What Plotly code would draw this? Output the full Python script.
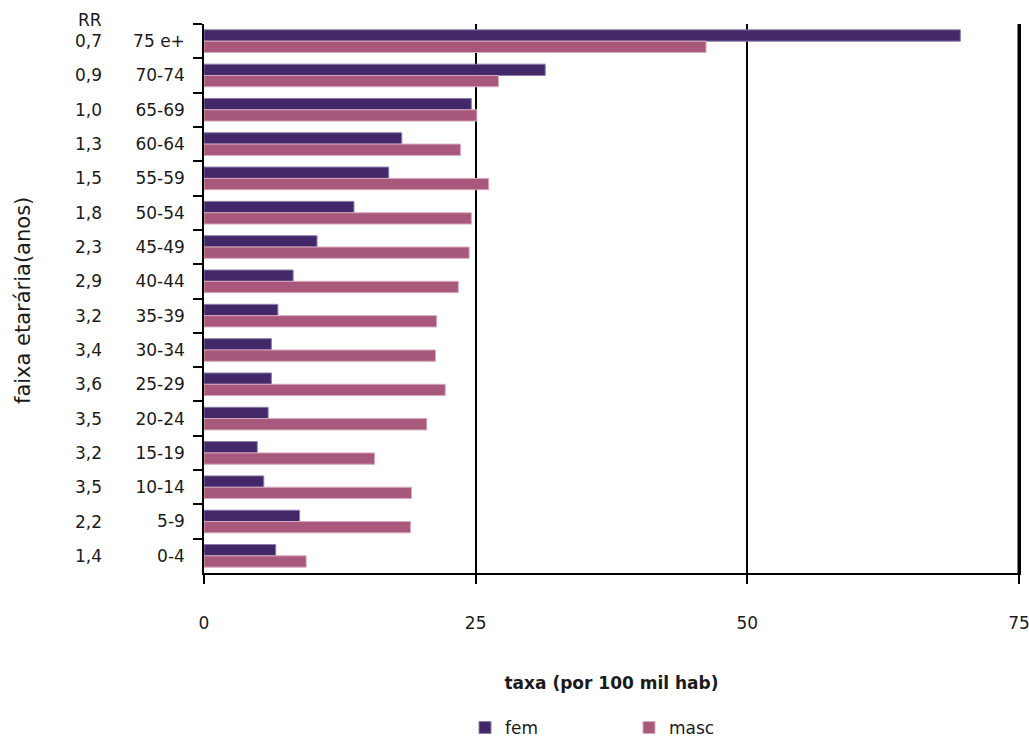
import plotly.graph_objects as go

# Age groups, top to bottom
age_groups = ["75 e+", "70-74", "65-69", "60-64", "55-59", "50-54", "45-49", "40-44",
              "35-39", "30-34", "25-29", "20-24", "15-19", "10-14", "5-9", "0-4"]
# Rate ratio (masc / fem) shown next to each age group
rr = ["0,7", "0,9", "1,0", "1,3", "1,5", "1,8", "2,3", "2,9",
      "3,2", "3,4", "3,6", "3,5", "3,2", "3,5", "2,2", "1,4"]
# Rates per 100 thousand inhabitants
fem = [69.6, 31.4, 24.6, 18.2, 17.0, 13.8, 10.4, 8.2,
       6.8, 6.2, 6.2, 5.9, 4.9, 5.5, 8.8, 6.6]
masc = [46.2, 27.1, 25.1, 23.6, 26.2, 24.6, 24.4, 23.4,
        21.4, 21.3, 22.2, 20.5, 15.7, 19.1, 19.0, 9.4]
x_ticks = [0, 25, 50, 75]

FONT = "DejaVu Sans"
TXT = "#1a1a1a"
FEM_COLOR = "#432869"
MASC_COLOR = "#a8597b"

W, H = 1029, 742
L, R, T, B = 204, 10, 24, 169
plot_w = W - L - R
plot_h = H - T - B

fig = go.Figure()
fig.add_bar(y=age_groups, x=fem, orientation="h", name="fem",
            marker=dict(color=FEM_COLOR, line=dict(color="#8c7dab", width=1)))
fig.add_bar(y=age_groups, x=masc, orientation="h", name="masc",
            marker=dict(color=MASC_COLOR, line=dict(color="#d9aabf", width=1)))

def px_to_paper_x(px):
    return (px - L) / plot_w

def px_to_paper_y(py):
    return (H - B - py) / plot_h

# Gridline along the right edge of the plot area (the last x tick)
fig.add_shape(type="line", xref="paper", yref="paper",
              x0=px_to_paper_x(1018.5), x1=px_to_paper_x(1018.5), y0=0, y1=1,
              line=dict(color="black", width=2), layer="above")

annotations = []
# RR column
annotations.append(dict(text="RR", x=px_to_paper_x(104), xref="paper", xanchor="right",
                        y=px_to_paper_y(20), yref="paper", yanchor="middle",
                        showarrow=False, font=dict(family=FONT, size=17, color=TXT)))
for g, v in zip(age_groups, rr):
    annotations.append(dict(text=v, x=px_to_paper_x(104), xref="paper", xanchor="right",
                            y=g, yref="y", yanchor="middle",
                            showarrow=False, font=dict(family=FONT, size=17, color=TXT)))
# Vertical axis title
annotations.append(dict(text="faixa etarária(anos)", x=px_to_paper_x(23), xref="paper",
                        xanchor="center", y=px_to_paper_y(301), yref="paper", yanchor="middle",
                        textangle=-90, showarrow=False,
                        font=dict(family=FONT, size=21, color=TXT)))

fig.update_layout(
    width=W, height=H,
    margin=dict(l=L, r=R, t=T, b=B, autoexpand=False),
    paper_bgcolor="white", plot_bgcolor="white",
    barmode="group", bargap=0.34, bargroupgap=0,
    font=dict(family=FONT, size=17, color=TXT),
    showlegend=True,
    legend=dict(orientation="h", x=px_to_paper_x(465), xanchor="left",
                y=px_to_paper_y(728), yanchor="middle",
                entrywidth=119, itemwidth=30,
                font=dict(family=FONT, size=17, color=TXT)),
    annotations=annotations,
    xaxis=dict(range=[0, 75], tickvals=x_ticks, ticktext=[str(v) for v in x_ticks],
               automargin=False, ticklabeloverflow="allow",
               showgrid=True, gridcolor="black", gridwidth=1.5,
               showline=True, linecolor="black", linewidth=1.5,
               zeroline=False, ticks="outside", ticklen=9, tickwidth=1.5, tickcolor="black",
               ticklabelstandoff=25,
               tickfont=dict(family=FONT, size=17, color=TXT),
               title=dict(text="<b>taxa (por 100 mil hab)</b>", standoff=45,
                          font=dict(family=FONT, size=17, color=TXT))),
    yaxis=dict(type="category", autorange="reversed", automargin=False,
               showgrid=False, showline=True, mirror=True,
               linecolor="black", linewidth=1.5,
               zeroline=False, ticks="outside", tickson="boundaries",
               ticklen=9, tickwidth=1.5, tickcolor="black",
               ticklabelstandoff=14,
               tickfont=dict(family=FONT, size=17, color=TXT)),
)

fig.write_html("out.html")
